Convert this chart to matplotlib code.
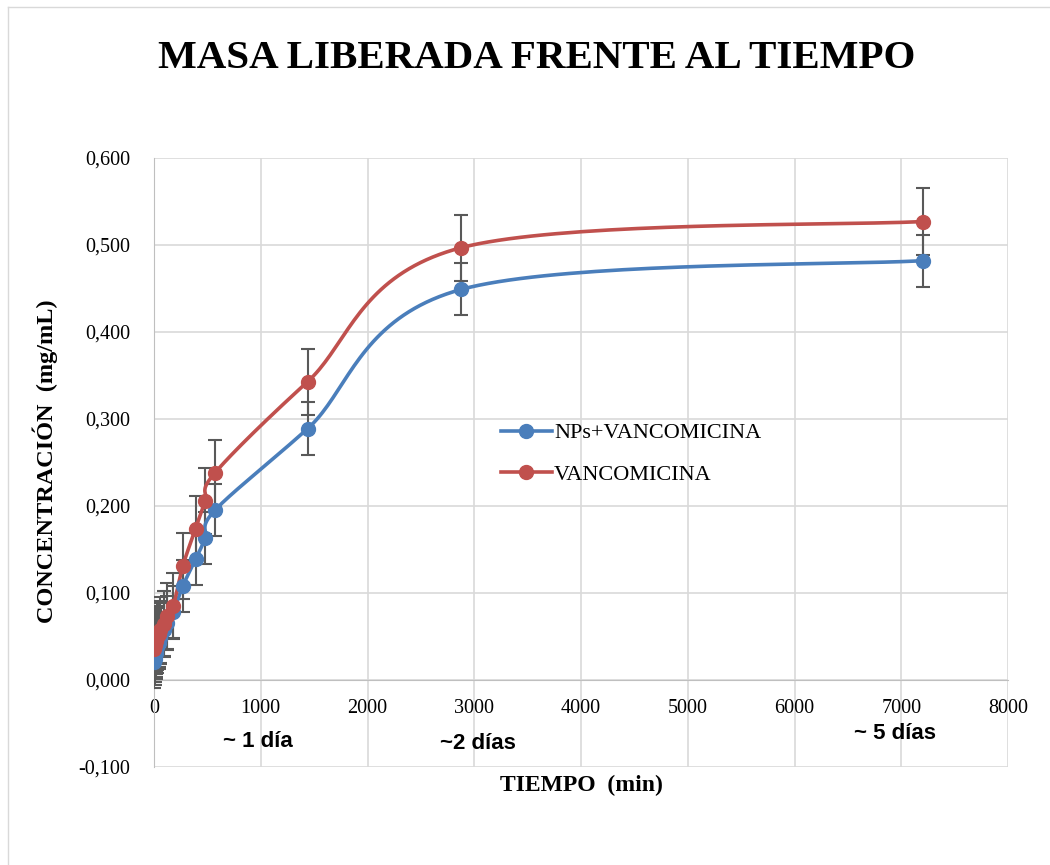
import numpy as np
import matplotlib
matplotlib.use('Agg')
import matplotlib.pyplot as plt
from matplotlib.lines import Line2D
from matplotlib.ticker import FuncFormatter, MultipleLocator

# datos
tiempo = [2, 5, 10, 15, 20, 30, 45, 60, 90, 120, 180, 270, 390, 480, 570,
          1440, 2880, 7200]
nps_vanco = [0.021, 0.024, 0.028, 0.031, 0.034, 0.038, 0.043, 0.048, 0.058,
             0.066, 0.078, 0.108, 0.139, 0.163, 0.195, 0.289, 0.449, 0.482]
vanco = [0.036, 0.040, 0.042, 0.045, 0.047, 0.050, 0.053, 0.057, 0.064,
         0.073, 0.085, 0.131, 0.174, 0.206, 0.238, 0.343, 0.497, 0.527]
err_nps = [0.030] * len(tiempo)
err_vanco = [0.038] * len(tiempo)
etiquetas_dias = ['~ 1 día', '~2 días', '~ 5 días']
pos_dias = [975, 3030, 6940]
y_dias = [-0.071, -0.073, -0.061]

AZUL = '#4A7EBB'
ROJO = '#C0504D'
GRIS = '#595959'
SERIF = 'Liberation Serif'


# suavizado tipo Excel (bezier con tangentes de Catmull-Rom)
def suavizar(x, y, n=40):
    p = np.column_stack([x, y]).astype(float)
    m = len(p)
    out = [p[0]]
    t = np.linspace(0, 1, n)[1:, None]
    for i in range(m - 1):
        p0 = p[i - 1] if i > 0 else p[i]
        p3 = p[i + 2] if i + 2 < m else p[i + 1]
        c1 = p[i] + (p[i + 1] - p0) / 6
        c2 = p[i + 1] - (p3 - p[i]) / 6
        seg = ((1 - t) ** 3 * p[i] + 3 * (1 - t) ** 2 * t * c1
               + 3 * (1 - t) * t ** 2 * c2 + t ** 3 * p[i + 1])
        out.extend(seg)
    out = np.array(out)
    return out[:, 0], out[:, 1]


fig = plt.figure(figsize=(10.5, 8.65), dpi=100)
ax = fig.add_axes([154 / 1050, 1 - 767 / 865, (1008 - 154) / 1050, (767 - 158) / 865])

# error bars
ax.errorbar(tiempo, nps_vanco, yerr=err_nps, fmt='none', ecolor=GRIS,
            elinewidth=1.5, capsize=5, capthick=1.5, zorder=3)
ax.errorbar(tiempo, vanco, yerr=err_vanco, fmt='none', ecolor=GRIS,
            elinewidth=1.5, capsize=5, capthick=1.5, zorder=3)

for datos, color in [(nps_vanco, AZUL), (vanco, ROJO)]:
    xs, ys = suavizar(tiempo, datos)
    ax.plot(xs, ys, color=color, lw=2.6, zorder=4, solid_capstyle='round')
    ax.plot(tiempo, datos, 'o', color=color, ms=10, zorder=5)

ax.set_xlim(0, 8000)
ax.set_ylim(-0.1, 0.6)
ax.xaxis.set_major_locator(MultipleLocator(1000))
ax.yaxis.set_major_locator(MultipleLocator(0.1))
ax.yaxis.set_major_formatter(FuncFormatter(lambda v, p: ('%.3f' % v).replace('.', ',')))
ax.xaxis.set_major_formatter(FuncFormatter(lambda v, p: '%d' % v))
ax.grid(True, color='#D9D9D9', lw=1.2, zorder=0)
ax.set_axisbelow(True)
for s in ['top', 'right']:
    ax.spines[s].set_visible(False)
ax.spines['left'].set_color('#BFBFBF')
ax.spines['bottom'].set_position(('data', 0))
ax.spines['bottom'].set_color('#BFBFBF')
ax.tick_params(length=0, labelsize=14.5)
ax.tick_params(axis='x', pad=14)
ax.tick_params(axis='y', pad=17)
for lab in ax.get_xticklabels() + ax.get_yticklabels():
    lab.set_family(SERIF)

# anotaciones de dias
for txt, xv, yv in zip(etiquetas_dias, pos_dias, y_dias):
    ax.text(xv, yv, txt, ha='center', va='center', fontsize=16,
            fontweight='bold', family='Liberation Sans', zorder=6)

fig.text(537 / 1050, 1 - 58 / 865, 'MASA LIBERADA FRENTE AL TIEMPO',
         ha='center', va='center', fontsize=29.5, fontweight='bold', family=SERIF)
fig.text(45 / 1050, 1 - 461 / 865, 'CONCENTRACIÓN  (mg/mL)', rotation=90,
         ha='center', va='center', fontsize=17.5, fontweight='bold', family=SERIF)
fig.text(581 / 1050, 1 - 785 / 865, 'TIEMPO  (min)', ha='center', va='center',
         fontsize=17, fontweight='bold', family=SERIF)

# leyenda
handles = [Line2D([], [], color=AZUL, lw=2.6, marker='o', ms=10),
           Line2D([], [], color=ROJO, lw=2.6, marker='o', ms=10)]
fig.legend(handles, ['NPs+VANCOMICINA', 'VANCOMICINA'], loc='upper left',
           bbox_to_anchor=(492 / 1050, 1 - 414 / 865), frameon=False,
           prop={'family': SERIF, 'size': 16}, handlelength=2.3,
           handletextpad=0.1, labelspacing=0.95, borderaxespad=0)

# borde del grafico
fig.add_artist(Line2D([8 / 1050, 8 / 1050], [0, 1 - 7 / 865], color='#D9D9D9', lw=1,
                      transform=fig.transFigure))
fig.add_artist(Line2D([8 / 1050, 1], [1 - 7 / 865, 1 - 7 / 865], color='#D9D9D9', lw=1,
                      transform=fig.transFigure))

fig.savefig('out.png', dpi=100)
